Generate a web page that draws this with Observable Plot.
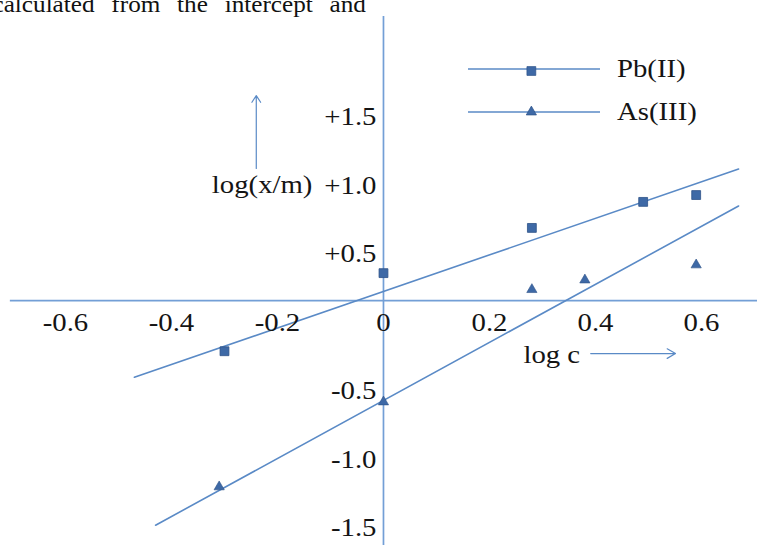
<!DOCTYPE html>
<html><head><meta charset="utf-8">
<script src="https://cdn.jsdelivr.net/npm/d3@7"></script>
<script src="https://cdn.jsdelivr.net/npm/@observablehq/plot@0.6"></script>
<style>
body{margin:0;background:#fff;}
#wrap{position:relative;width:757px;height:545px;overflow:hidden;}
#wrap svg{display:block;}
#legend{position:absolute;left:0;top:0;pointer-events:none;}
</style></head><body><div id="wrap"></div>
<script>
// ---- data ----
const seriesNames = ["Pb(II)", "As(III)"];
const pbX = [-0.30, 0.00, 0.28, 0.49, 0.59];
const pbY = [-0.37, 0.20, 0.53, 0.72, 0.77];
const asX = [-0.31, 0.00, 0.28, 0.38, 0.59];
const asY = [-1.36, -0.74, 0.08, 0.15, 0.26];
const pbTrendX = [-0.47, 0.67];
const pbTrendY = [-0.56, 0.96];
const asTrendX = [-0.43, 0.67];
const asTrendY = [-1.64, 0.69];
const xTicks = [-0.6, -0.4, -0.2, 0, 0.2, 0.4, 0.6];
const xTickLabels = ["-0.6", "-0.4", "-0.2", "0", "0.2", "0.4", "0.6"];
const yTicks = [-1.5, -1.0, -0.5, 0.5, 1.0, 1.5];
const yTickLabels = ["-1.5", "-1.0", "-0.5", "+0.5", "+1.0", "+1.5"];
const topText = "calculated from the intercept and";
const xTitle = "log c";
const yTitle = "log(x/m)";

// ---- layout / style config ----
const W = 757, H = 545;
const xDomain = [-0.7226, 0.7057];
const yDomain = [-1.788, 2.190];
const hAxisExtent = [-0.704, 0.7057];
const vAxisExtent = [2.073, -1.788];
const yTitlePos = {x: -0.134, y: 0.84};
const xTitlePos = {x: 0.264, y: -0.40};
const yArrow = {x: -0.240, y1: 0.964, y2: 1.496};
const xArrow = {y: -0.387, x1: 0.391, x2: 0.551};
const lineColor = "#5a8ac6";
const axisColor = "#739fd6";
const markFill = "#3e69a6";
const markStroke = "#2d5288";
const textColor = "#141414";
const fontSize = 25;
const stretch = 1.15;

const pb = pbX.map((x, i) => ({x, y: pbY[i]}));
const as = asX.map((x, i) => ({x, y: asY[i]}));
const pbTrend = pbTrendX.map((x, i) => ({x, y: pbTrendY[i]}));
const asTrend = asTrendX.map((x, i) => ({x, y: asTrendY[i]}));
const xt = xTicks.map((v, i) => ({v, label: xTickLabels[i]}));
const yt = yTicks.map((v, i) => ({v, label: yTickLabels[i]}));

const svg = Plot.plot({
  width: W, height: H,
  margin: 0,
  style: {fontFamily: "'Liberation Serif', 'Times New Roman', serif", background: "#fff", overflow: "visible"},
  x: {domain: xDomain, axis: null},
  y: {domain: yDomain, axis: null},
  marks: [
    Plot.ruleY([0], {x1: hAxisExtent[0], x2: hAxisExtent[1], stroke: axisColor, strokeWidth: 1.7}),
    Plot.ruleX([0], {y1: vAxisExtent[0], y2: vAxisExtent[1], stroke: axisColor, strokeWidth: 1.7}),
    Plot.line(pbTrend, {x: "x", y: "y", stroke: lineColor, strokeWidth: 1.6}),
    Plot.line(asTrend, {x: "x", y: "y", stroke: lineColor, strokeWidth: 1.6}),
    Plot.dot(pb, {x: "x", y: "y", symbol: "square", r: 5, fill: markFill, stroke: markStroke, strokeWidth: 0.8}),
    Plot.dot(as, {x: "x", y: "y", symbol: "triangle", r: 3.8, fill: markFill, stroke: markStroke, strokeWidth: 0.6}),
    Plot.text(xt, {x: "v", y: () => 0, text: "label", dy: 22, fontSize, fill: textColor}),
    Plot.text(yt, {x: () => 0, y: "v", text: "label", dy: 22, dx: -7, textAnchor: "end", fontSize, fill: textColor}),
    Plot.text([yTitle], {x: () => yTitlePos.x, y: () => yTitlePos.y, text: d => d, textAnchor: "end", fontSize, fill: textColor}),
    Plot.text([xTitle], {x: () => xTitlePos.x, y: () => xTitlePos.y, text: d => d, textAnchor: "start", fontSize, fill: textColor}),
    Plot.arrow([yArrow], {x1: "x", x2: "x", y1: "y1", y2: "y2", stroke: lineColor, strokeWidth: 1.2, headLength: 10, headAngle: 66}),
    Plot.arrow([xArrow], {x1: "x1", x2: "x2", y1: "y", y2: "y", stroke: lineColor, strokeWidth: 1.2, headLength: 12, headAngle: 60}),
    Plot.text([topText], {frameAnchor: "top-left", text: d => d, textAnchor: "start", lineAnchor: "bottom", dx: -8, dy: 11, fontSize: 24, fill: "#111"})
  ]
});

d3.select(svg).selectAll("text").each(function () {
  const isTop = this.textContent.startsWith("calculated");
  const s = isTop ? 1.05 : stretch;
  if (isTop) this.style.wordSpacing = "10px";
  const t = this.getAttribute("transform") || "";
  const x = +this.getAttribute("x") || 0;
  this.setAttribute("transform", `${t} translate(${x},0) scale(${s},1) translate(${-x},0)`);
});

const wrap = document.getElementById("wrap");
wrap.appendChild(svg);

// ---- legend overlay ----
const legendLayout = {left: 468, top: 69, lineLength: 132, rowGap: 43, labelGap: 17};
const symbols = [d3.symbol(d3.symbolSquare, 25 * Math.PI), d3.symbol(d3.symbolTriangle, 3.8 * 3.8 * Math.PI)];
const leg = d3.select(wrap).append("svg").attr("id", "legend").attr("width", W).attr("height", H)
  .style("font-family", "'Liberation Serif', 'Times New Roman', serif");
seriesNames.forEach((name, i) => {
  const g = leg.append("g").attr("transform", `translate(${legendLayout.left},${legendLayout.top + i * legendLayout.rowGap})`);
  g.append("line").attr("x1", 0).attr("x2", legendLayout.lineLength).attr("y1", 0).attr("y2", 0)
    .attr("stroke", lineColor).attr("stroke-width", 1.6);
  g.append("path").attr("d", symbols[i]()).attr("transform", `translate(${legendLayout.lineLength * 0.48},${i === 0 ? 2 : 0})`)
    .attr("fill", markFill).attr("stroke", markStroke).attr("stroke-width", 0.7);
  g.append("text").attr("x", 0).attr("y", 0).attr("dy", "0.32em")
    .attr("transform", `translate(${legendLayout.lineLength + legendLayout.labelGap},0) scale(${stretch},1)`)
    .attr("font-size", fontSize).attr("fill", textColor).text(name);
});
</script></body></html>
